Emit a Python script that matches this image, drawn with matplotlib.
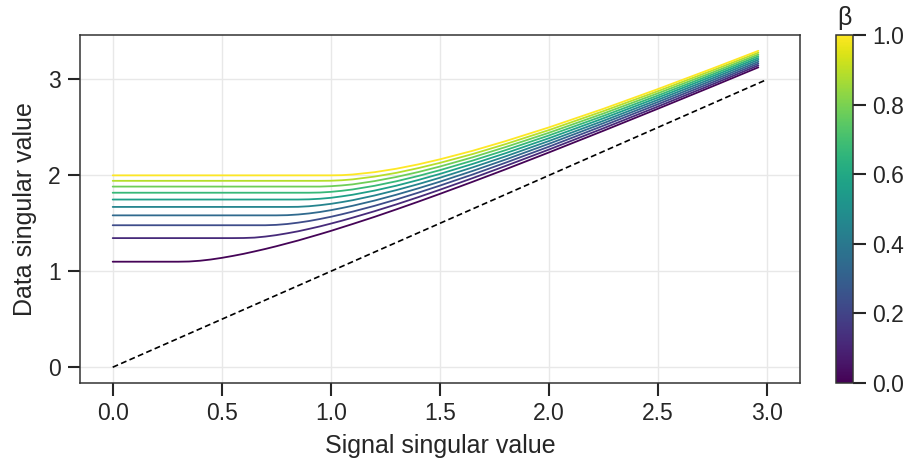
import numpy as np
import matplotlib
matplotlib.use("Agg")
import matplotlib.pyplot as plt
import seaborn as sns

# aspect ratios (beta) of the curves, bottom to top
betas = [0.01, 0.12, 0.23, 0.34, 0.45, 0.56, 0.67, 0.78, 0.89, 1.0]

# signal singular value grid shared by all curves
signal = [0.0, 0.3, 0.35, 0.4, 0.45, 0.5, 0.55, 0.6, 0.65, 0.7, 0.75, 0.8, 0.85, 0.9, 0.95,
          1.0, 1.05, 1.1, 1.2, 1.3, 1.4, 1.5, 1.65, 1.8, 2.0, 2.25, 2.5, 2.75, 2.96]

# data singular value for each beta
data_sv = [
    [1.100, 1.100, 1.102, 1.110, 1.123, 1.140, 1.160, 1.182, 1.207, 1.233, 1.261, 1.291, 1.321, 1.354, 1.387,
     1.421, 1.457, 1.493, 1.567, 1.645, 1.725, 1.807, 1.933, 2.062, 2.239, 2.465, 2.695, 2.928, 3.126],
    [1.346, 1.346, 1.346, 1.346, 1.346, 1.346, 1.346, 1.347, 1.351, 1.362, 1.377, 1.396, 1.417, 1.442, 1.468,
     1.497, 1.527, 1.559, 1.626, 1.697, 1.772, 1.850, 1.971, 2.097, 2.269, 2.491, 2.718, 2.949, 3.146],
    [1.480, 1.480, 1.480, 1.480, 1.480, 1.480, 1.480, 1.480, 1.480, 1.480, 1.484, 1.493, 1.507, 1.524, 1.545,
     1.568, 1.594, 1.622, 1.682, 1.748, 1.819, 1.893, 2.009, 2.131, 2.299, 2.518, 2.742, 2.970, 3.165],
    [1.583, 1.583, 1.583, 1.583, 1.583, 1.583, 1.583, 1.583, 1.583, 1.583, 1.583, 1.585, 1.592, 1.603, 1.618,
     1.637, 1.659, 1.683, 1.737, 1.798, 1.864, 1.934, 2.046, 2.164, 2.329, 2.544, 2.765, 2.991, 3.184],
    [1.671, 1.671, 1.671, 1.671, 1.671, 1.671, 1.671, 1.671, 1.671, 1.671, 1.671, 1.671, 1.672, 1.678, 1.689,
     1.703, 1.721, 1.741, 1.790, 1.846, 1.908, 1.975, 2.083, 2.197, 2.358, 2.569, 2.788, 3.012, 3.204],
    [1.748, 1.748, 1.748, 1.748, 1.748, 1.748, 1.748, 1.748, 1.748, 1.748, 1.748, 1.748, 1.748, 1.750, 1.756,
     1.766, 1.781, 1.798, 1.841, 1.892, 1.951, 2.015, 2.119, 2.230, 2.387, 2.595, 2.811, 3.033, 3.223],
    [1.819, 1.819, 1.819, 1.819, 1.819, 1.819, 1.819, 1.819, 1.819, 1.819, 1.819, 1.819, 1.819, 1.819, 1.821,
     1.828, 1.839, 1.853, 1.891, 1.938, 1.993, 2.054, 2.154, 2.262, 2.416, 2.620, 2.833, 3.053, 3.242],
    [1.883, 1.883, 1.883, 1.883, 1.883, 1.883, 1.883, 1.883, 1.883, 1.883, 1.883, 1.883, 1.883, 1.883, 1.883,
     1.887, 1.895, 1.906, 1.940, 1.983, 2.034, 2.092, 2.188, 2.294, 2.444, 2.645, 2.856, 3.073, 3.260],
    [1.943, 1.943, 1.943, 1.943, 1.943, 1.943, 1.943, 1.943, 1.943, 1.943, 1.943, 1.943, 1.943, 1.943, 1.943,
     1.944, 1.949, 1.958, 1.987, 2.026, 2.075, 2.130, 2.222, 2.325, 2.472, 2.670, 2.878, 3.094, 3.279],
    [2.000, 2.000, 2.000, 2.000, 2.000, 2.000, 2.000, 2.000, 2.000, 2.000, 2.000, 2.000, 2.000, 2.000, 2.000,
     2.000, 2.002, 2.009, 2.033, 2.069, 2.114, 2.167, 2.256, 2.356, 2.500, 2.694, 2.900, 3.114, 3.298],
]

# identity reference line
ref_x = [0.0, 3.0]
ref_y = [0.0, 3.0]

sns.set_theme(style="ticks")
plt.rcParams["font.family"] = ["Liberation Sans", "DejaVu Sans"]
plt.rcParams["text.color"] = "#262626"
plt.rcParams["axes.labelcolor"] = "#262626"
plt.rcParams["xtick.color"] = "#262626"
plt.rcParams["ytick.color"] = "#262626"

fig = plt.figure(figsize=(9.13, 4.70), dpi=100)
ax = fig.add_axes([0.0876, 0.185, 0.7884, 0.7405])
cax = fig.add_axes([0.9157, 0.185, 0.0186, 0.7405])

cmap = plt.get_cmap("viridis")
norm = matplotlib.colors.Normalize(vmin=0, vmax=1)

for b, ys in zip(betas, data_sv):
    ax.plot(signal, ys, color=cmap(norm(b)), lw=1.3)

ax.plot(ref_x, ref_y, color="black", ls="--", lw=1.2, dashes=(3.5, 2))

ax.grid(True, color="#e8e8e8", lw=1.0)
ax.set_axisbelow(True)
ax.set_xticks([0.0, 0.5, 1.0, 1.5, 2.0, 2.5, 3.0])
ax.set_yticks([0, 1, 2, 3])
ax.set_xlabel("Signal singular value", fontsize=18, labelpad=6)
ax.set_ylabel("Data singular value", fontsize=18, labelpad=8)
ax.tick_params(labelsize=16.5, length=9, width=1.5, pad=5)
for s in ax.spines.values():
    s.set_color("#333333")
    s.set_linewidth(1.1)

sm = matplotlib.cm.ScalarMappable(norm=norm, cmap=cmap)
cb = fig.colorbar(sm, cax=cax)
cb.set_ticks([0.0, 0.2, 0.4, 0.6, 0.8, 1.0])
cb.ax.tick_params(labelsize=16.5, length=9, width=1.5, pad=5)
cb.outline.set_edgecolor("#333333")
cb.outline.set_linewidth(1.1)
cax.set_title("β", fontsize=18, pad=7)

fig.savefig("out.png", dpi=100)
